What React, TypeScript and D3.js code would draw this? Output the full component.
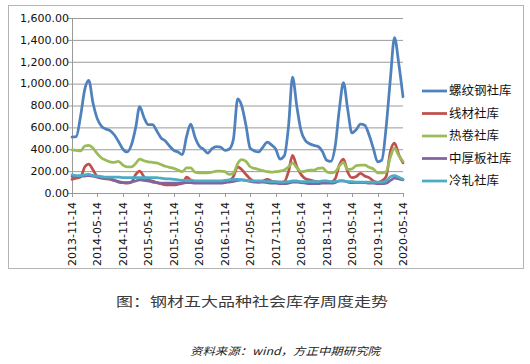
import React from 'react';
import * as d3 from 'd3';

// monthly readings (14th of each month), 2013-11 .. 2020-05
const rebar = [
  512, 515, 700, 950, 1030, 820, 680, 610, 585, 570, 530, 470,
  400, 375, 440, 600, 790, 690, 625, 625, 570, 505, 475, 430,
  390, 375, 350, 520, 630, 510, 430, 400, 365, 405, 425, 420,
  390, 400, 490, 860, 800, 620, 410, 385, 375, 420, 465, 440,
  400, 310, 340, 620, 1060, 790, 570, 480, 450, 435, 425, 380,
  300, 290, 430, 780, 1010, 760, 550, 580, 630, 620, 530, 410,
  285, 300, 600, 1050, 1420, 1180, 880,
];
const wireRod = [
  125, 135, 145, 240, 265, 210, 150, 135, 130, 125, 115, 105,
  95, 90, 100, 170, 200, 150, 120, 110, 95, 85, 75, 75,
  75, 80, 90, 145, 120, 100, 100, 95, 95, 95, 100, 95,
  100, 110, 150, 240, 215, 170, 130, 105, 100, 110, 125, 110,
  100, 100, 105, 200, 345, 240, 170, 130, 120, 110, 100, 100,
  100, 100, 130, 260, 310, 190, 140, 150, 180, 155, 140, 110,
  95, 110, 150, 380, 455, 350, 275,
];
const hotRolled = [
  395, 390, 385, 430, 435, 410, 360, 320, 300, 285, 280, 290,
  255, 240, 240, 270, 310, 295, 285, 280, 275, 260, 245, 235,
  225, 210, 195, 230, 230, 190, 185, 185, 185, 190, 200, 200,
  195, 170, 180, 270, 305, 290, 240, 225, 215, 205, 195, 190,
  195, 200, 210, 240, 275, 230, 195, 200, 210, 210, 225, 230,
  195, 185, 195, 250, 280, 215, 220, 250, 255, 255, 235, 220,
  185, 185, 195, 330, 410, 340, 290,
];
const plate = [
  150, 150, 155, 155, 160, 155, 145, 140, 135, 130, 115, 100,
  95, 95, 100, 110, 120, 115, 110, 100, 95, 90, 90, 90,
  90, 90, 90, 95, 95, 90, 90, 90, 90, 90, 90, 90,
  95, 100, 105, 115, 120, 115, 105, 100, 100, 100, 95, 90,
  90, 85, 85, 90, 100, 100, 95, 90, 85, 85, 85, 90,
  90, 90, 95, 110, 110, 100, 95, 95, 95, 95, 90, 90,
  85, 85, 90, 115, 135, 130, 120,
];
const coldRolled = [
  165, 160, 160, 165, 170, 160, 155, 150, 145, 145, 145, 145,
  140, 140, 140, 140, 140, 140, 140, 140, 140, 135, 130, 130,
  125, 120, 115, 115, 115, 112, 110, 110, 110, 110, 110, 110,
  115, 120, 125, 125, 120, 115, 110, 110, 110, 110, 105, 105,
  105, 100, 100, 105, 110, 110, 105, 105, 105, 105, 105, 110,
  110, 105, 105, 110, 110, 105, 105, 100, 100, 100, 100, 100,
  100, 100, 110, 150, 160, 145, 125,
];

const seriesNames = ['螺纹钢社库', '线材社库', '热卷社库', '中厚板社库', '冷轧社库'];
const seriesColors = ['#4F81BD', '#C0504D', '#9BBB59', '#8064A2', '#4BACC6'];
const seriesValues = [rebar, wireRod, hotRolled, plate, coldRolled];

const xTickLabels = [
  '2013-11-14', '2014-05-14', '2014-11-14', '2015-05-14', '2015-11-14',
  '2016-05-14', '2016-11-14', '2017-05-14', '2017-11-14', '2018-05-14',
  '2018-11-14', '2019-05-14', '2019-11-14', '2020-05-14',
];
const yTicks = [0, 200, 400, 600, 800, 1000, 1200, 1400, 1600];

const caption = '图：钢材五大品种社会库存周度走势';
const source = '资料来源：wind，方正中期研究院';

const W = 530;
const H = 364;
const margin = { left: 72, right: 403, top: 18, bottom: 193 };

const parse = d3.timeParse('%Y-%m-%d');
const dates = rebar.map((_, i) => new Date(2013, 10 + i, 14));

const App: React.FC = () => {
  const x = d3.scaleTime()
    .domain([parse(xTickLabels[0])!, parse(xTickLabels[xTickLabels.length - 1])!])
    .range([margin.left, margin.right]);
  const y = d3.scaleLinear().domain([0, 1600]).range([margin.bottom, margin.top]);
  const fmt = d3.format(',.2f');

  const line = d3.line<number>()
    .x((_, i) => x(dates[i]))
    .y(d => y(d))
    .curve(d3.curveMonotoneX);

  const tickFont = '"DejaVu Sans", sans-serif';
  const cjkFont = '"Noto Sans CJK SC", sans-serif';
  const gridColor = '#9a9a9a';

  return (
    <svg width={W} height={H} style={{ position: 'absolute', left: 0, top: 0, background: '#fff' }}>
      <rect x={8.5} y={5.5} width={515} height={263} fill="#fff" stroke="#b4b4b4" />

      {yTicks.map(t => (
        <g key={t}>
          {t > 0 && (
            <line x1={margin.left} x2={margin.right} y1={y(t) + 0.5} y2={y(t) + 0.5} stroke={gridColor} />
          )}
          <line x1={margin.left - 4} x2={margin.left} y1={y(t) + 0.5} y2={y(t) + 0.5} stroke={gridColor} />
          <text x={margin.left - 3} y={y(t)} dy="0.35em" textAnchor="end" fontFamily={tickFont} fontSize={11} fill="#111">
            {fmt(t)}
          </text>
        </g>
      ))}
      <line x1={margin.left + 0.5} x2={margin.left + 0.5} y1={margin.top} y2={margin.bottom} stroke={gridColor} />
      <line x1={margin.left} x2={margin.right} y1={margin.bottom + 0.5} y2={margin.bottom + 0.5} stroke={gridColor} />

      {xTickLabels.map(l => {
        const px = Math.round(x(parse(l)!)) + 0.5;
        return (
          <g key={l}>
            <line x1={px} x2={px} y1={margin.bottom} y2={margin.bottom + 4} stroke={gridColor} />
            <text transform={`translate(${px},${margin.bottom + 9}) rotate(-90)`} dy="0.35em" textAnchor="end"
              fontFamily={tickFont} fontSize={11} fill="#111">
              {l}
            </text>
          </g>
        );
      })}

      {seriesValues.map((vals, i) => (
        <path key={seriesNames[i]} d={line(vals) || ''} fill="none" stroke={seriesColors[i]}
          strokeWidth={2.75} strokeLinejoin="round" strokeLinecap="round" />
      ))}

      {seriesNames.map((n, i) => (
        <g key={n} transform={`translate(422,${91 + i * 22.5})`}>
          <line x1={0} x2={25} y1={0} y2={0} stroke={seriesColors[i]} strokeWidth={2.75} />
          <text x={27} y={0} dy="0.35em" fontFamily={cjkFont} fontSize={12.5} fill="#111">{n}</text>
        </g>
      ))}

      <text x={116} y={301} dy="0.35em" fontFamily={cjkFont} fontSize={13} fill="#3a3a3a"
        textLength={272} lengthAdjust="spacingAndGlyphs">{caption}</text>
      <text x={190} y={351} dy="0.35em" fontFamily={cjkFont} fontSize={10.5} fontStyle="italic" fill="#222"
        textLength={190} lengthAdjust="spacingAndGlyphs">{source}</text>
    </svg>
  );
};

export default App;
